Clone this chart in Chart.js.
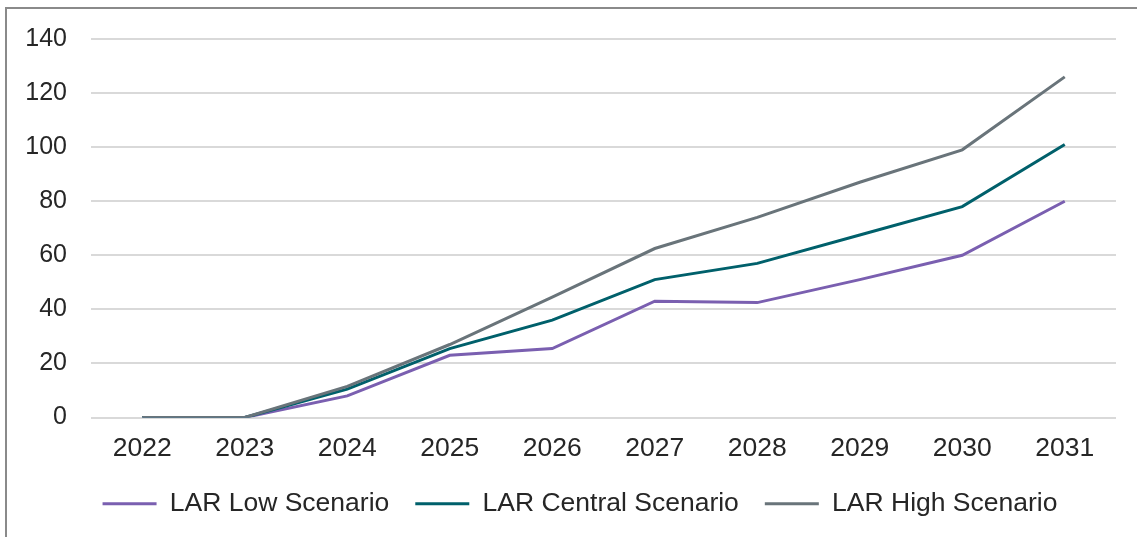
<!DOCTYPE html>
<html>
<head>
<meta charset="utf-8">
<script src="https://cdn.jsdelivr.net/npm/chart.js@4.4.1/dist/chart.umd.min.js"></script>
<style>
    html, body { margin: 0; padding: 0; background: #fff; }
    #wrap { position: relative; width: 1137px; height: 537px; overflow: hidden; }
    #frame {
        position: absolute; left: 5px; top: 7px; width: 1200px; height: 600px;
        border-top: 2px solid #8a8a8a; border-left: 2px solid #8a8a8a;
        box-sizing: border-box;
    }
    canvas { position: absolute; left: 0; top: 0; }
</style>
</head>
<body>
<div id="wrap">
    <div id="frame"></div>
    <canvas id="lineChart" width="1137" height="537"></canvas>
</div>
<script>
// Chart data
const years = ['2022', '2023', '2024', '2025', '2026', '2027', '2028', '2029', '2030', '2031'];
const lowScenario = [0, 0, 8, 23, 25.5, 43, 42.5, 51, 60, 80];
const centralScenario = [0, 0, 10.5, 25.5, 36, 51, 57, 67.5, 78, 101];
const highScenario = [0, 0, 11.5, 27, 44.5, 62.5, 74, 87, 99, 126];
const yTicks = [0, 20, 40, 60, 80, 100, 120, 140];

const textColor = '#262626';
const fontFamily = '"Liberation Sans", Arial, sans-serif';

function makeLine(label, values, color, order) {
    return {
        label: label,
        data: values,
        order: order,
        borderColor: color,
        backgroundColor: color,
        borderWidth: 3,
        pointRadius: 0,
        tension: 0,
        fill: false
    };
}

// Nudge the legend a little to the right, like in the original
const legendShift = {
    id: 'legendShift',
    afterLayout: function(chart) {
        if (chart.legend) {
            chart.legend.left += 22;
            chart.legend.right += 22;
        }
    }
};

const chart = new Chart(document.getElementById('lineChart'), {
    type: 'line',
    data: {
        labels: years,
        datasets: [
            makeLine('LAR Low Scenario', lowScenario, '#7a5fb0', 2),
            makeLine('LAR Central Scenario', centralScenario, '#00606b', 1),
            makeLine('LAR High Scenario', highScenario, '#69747a', 0)
        ]
    },
    plugins: [legendShift],
    options: {
        responsive: false,
        animation: false,
        layout: {
            padding: { top: 37, left: 0, right: 21, bottom: 10 }
        },
        scales: {
            x: {
                offset: true,
                grid: { display: false, drawTicks: false },
                border: { display: false },
                afterFit: function(scale) {
                    scale.height = 47;
                },
                ticks: {
                    color: textColor,
                    padding: 15,
                    maxRotation: 0,
                    font: { family: fontFamily, size: 26.5 }
                }
            },
            y: {
                min: 0,
                max: 140,
                afterBuildTicks: function(scale) {
                    scale.ticks = yTicks.map(function(v) { return { value: v }; });
                },
                afterFit: function(scale) {
                    scale.width = 91;
                },
                grid: { color: '#d9d9d9', lineWidth: 2, drawTicks: false },
                border: { display: false },
                ticks: {
                    color: textColor,
                    padding: 24,
                    font: { family: fontFamily, size: 25 }
                }
            }
        },
        plugins: {
            tooltip: { enabled: false },
            legend: {
                position: 'bottom',
                labels: {
                    color: textColor,
                    usePointStyle: true,
                    pointStyle: 'line',
                    pointStyleWidth: 54,
                    padding: 26,
                    font: { family: fontFamily, size: 26.5 },
                    sort: function(a, b) { return a.datasetIndex - b.datasetIndex; }
                }
            }
        }
    }
});
</script>
</body>
</html>
